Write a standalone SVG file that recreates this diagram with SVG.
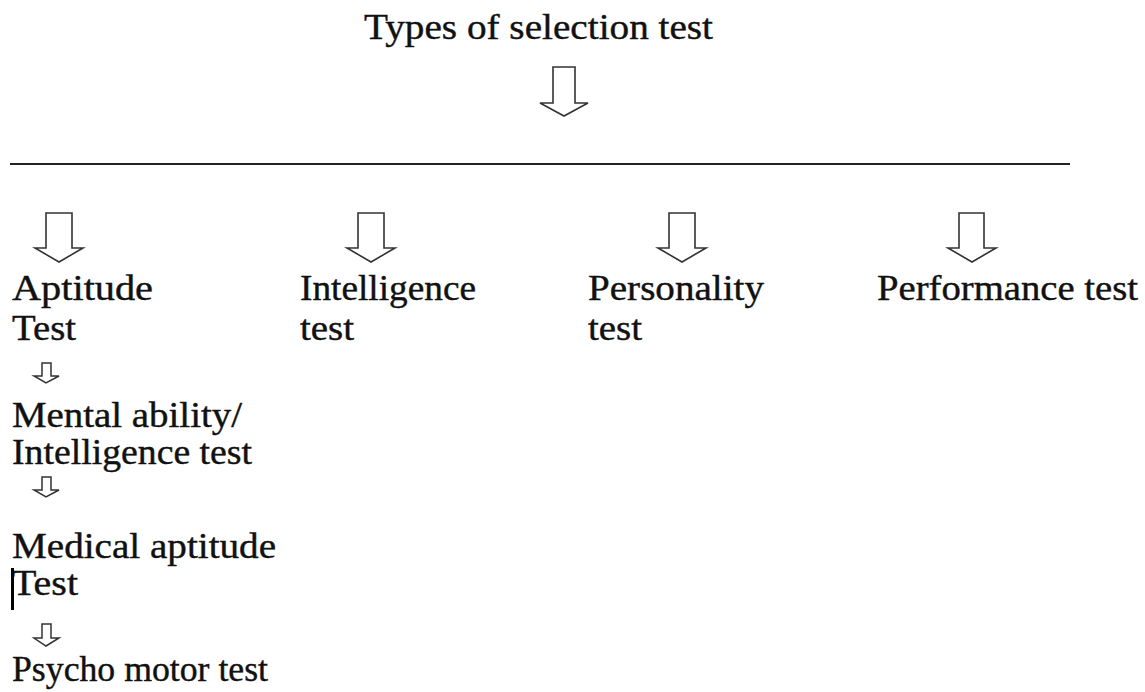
<svg xmlns="http://www.w3.org/2000/svg" width="1145" height="692" viewBox="0 0 1145 692">
<style>
.t{font-family:"Liberation Serif","Times New Roman",serif;font-size:35px;fill:#111;stroke:#111;stroke-width:0.4}
.a{fill:#fff;stroke:#333;stroke-width:1.6;stroke-linejoin:miter}
.s{fill:#fff;stroke:#333;stroke-width:1.5}
</style>
<rect width="1145" height="692" fill="#fff"/>
<g id="title"><text class="t" x="364" y="39" textLength="349" lengthAdjust="spacingAndGlyphs">Types of selection test</text></g>
<g id="connectors">
<polygon class="a" points="553,67 575,67 575,103 588,103 564,116 540,103 553,103"/>
<line x1="10" y1="164" x2="1070" y2="164" stroke="#222" stroke-width="2"/>
<polygon class="a" points="46,213 72,213 72,248 83,248 59,262 35,248 46,248"/>
<polygon class="a" points="358,213 384,213 384,248 395,248 371,262 347,248 358,248"/>
<polygon class="a" points="669,213 695,213 695,248 706,248 682,262 658,248 669,248"/>
<polygon class="a" points="959,213 984,213 984,248 996,248 972,262 948,248 959,248"/>
<polygon class="s" points="42,363 51,363 51,376 59,376 46,383 34,376 42,376"/>
<polygon class="s" points="42,477 51,477 51,490 59,490 46,497 34,490 42,490"/>
<polygon class="s" points="42,624 51,624 51,638 59,638 46,646 34,638 42,638"/>
</g>
<g id="aptitude"><text class="t" x="12" y="300" textLength="141" lengthAdjust="spacingAndGlyphs">Aptitude</text><text class="t" x="12" y="340" textLength="64" lengthAdjust="spacingAndGlyphs">Test</text></g>
<g id="intelligence"><text class="t" x="300" y="300" textLength="176" lengthAdjust="spacingAndGlyphs">Intelligence</text><text class="t" x="300" y="340" textLength="54" lengthAdjust="spacingAndGlyphs">test</text></g>
<g id="personality"><text class="t" x="588" y="300" textLength="176" lengthAdjust="spacingAndGlyphs">Personality</text><text class="t" x="588" y="340" textLength="54" lengthAdjust="spacingAndGlyphs">test</text></g>
<g id="performance"><text class="t" x="877" y="300" textLength="261" lengthAdjust="spacingAndGlyphs">Performance test</text></g>
<g id="mental"><text class="t" x="12" y="427" textLength="230" lengthAdjust="spacingAndGlyphs">Mental ability/</text><text class="t" x="12" y="464" textLength="240" lengthAdjust="spacingAndGlyphs">Intelligence test</text></g>
<g id="medical"><text class="t" x="12" y="558" textLength="264" lengthAdjust="spacingAndGlyphs">Medical aptitude</text><text class="t" x="12" y="595" textLength="66" lengthAdjust="spacingAndGlyphs">Test</text><rect x="11" y="568" width="3" height="42" fill="#000"/></g>
<g id="psycho"><text class="t" x="12" y="681" textLength="256" lengthAdjust="spacingAndGlyphs">Psycho motor test</text></g>
</svg>
